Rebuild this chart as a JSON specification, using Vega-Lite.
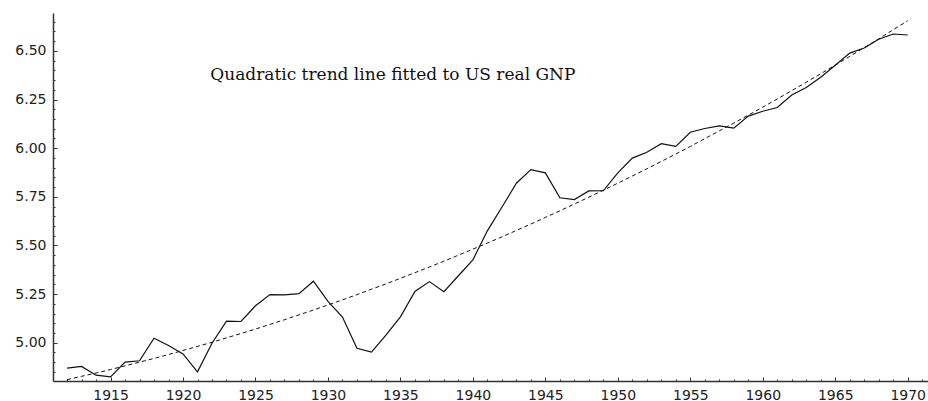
{
  "$schema": "https://vega.github.io/schema/vega-lite/v6.json",
  "width": 875,
  "height": 368,
  "autosize": {"type": "none"},
  "padding": {"left": 53, "top": 13, "right": 0, "bottom": 20},
  "background": "white",
  "config": {"view": {"stroke": null}, "axis": {"grid": false, "title": null}},
  "data": {"values": [
    {"year": 1912, "gnp": 4.869, "trend": 4.810},
    {"year": 1913, "gnp": 4.878, "trend": 4.827},
    {"year": 1914, "gnp": 4.833, "trend": 4.844},
    {"year": 1915, "gnp": 4.824, "trend": 4.862},
    {"year": 1916, "gnp": 4.900, "trend": 4.881},
    {"year": 1917, "gnp": 4.907, "trend": 4.900},
    {"year": 1918, "gnp": 5.023, "trend": 4.919},
    {"year": 1919, "gnp": 4.986, "trend": 4.939},
    {"year": 1920, "gnp": 4.942, "trend": 4.960},
    {"year": 1921, "gnp": 4.850, "trend": 4.981},
    {"year": 1922, "gnp": 4.997, "trend": 5.002},
    {"year": 1923, "gnp": 5.111, "trend": 5.025},
    {"year": 1924, "gnp": 5.109, "trend": 5.047},
    {"year": 1925, "gnp": 5.190, "trend": 5.070},
    {"year": 1926, "gnp": 5.247, "trend": 5.094},
    {"year": 1927, "gnp": 5.246, "trend": 5.118},
    {"year": 1928, "gnp": 5.252, "trend": 5.143},
    {"year": 1929, "gnp": 5.316, "trend": 5.168},
    {"year": 1930, "gnp": 5.212, "trend": 5.194},
    {"year": 1931, "gnp": 5.132, "trend": 5.220},
    {"year": 1932, "gnp": 4.971, "trend": 5.247},
    {"year": 1933, "gnp": 4.952, "trend": 5.275},
    {"year": 1934, "gnp": 5.039, "trend": 5.302},
    {"year": 1935, "gnp": 5.133, "trend": 5.331},
    {"year": 1936, "gnp": 5.263, "trend": 5.360},
    {"year": 1937, "gnp": 5.314, "trend": 5.389},
    {"year": 1938, "gnp": 5.262, "trend": 5.419},
    {"year": 1939, "gnp": 5.344, "trend": 5.450},
    {"year": 1940, "gnp": 5.426, "trend": 5.481},
    {"year": 1941, "gnp": 5.575, "trend": 5.512},
    {"year": 1942, "gnp": 5.696, "trend": 5.544},
    {"year": 1943, "gnp": 5.820, "trend": 5.577},
    {"year": 1944, "gnp": 5.890, "trend": 5.610},
    {"year": 1945, "gnp": 5.873, "trend": 5.644},
    {"year": 1946, "gnp": 5.745, "trend": 5.678},
    {"year": 1947, "gnp": 5.736, "trend": 5.713},
    {"year": 1948, "gnp": 5.780, "trend": 5.748},
    {"year": 1949, "gnp": 5.781, "trend": 5.784},
    {"year": 1950, "gnp": 5.873, "trend": 5.820},
    {"year": 1951, "gnp": 5.949, "trend": 5.857},
    {"year": 1952, "gnp": 5.979, "trend": 5.894},
    {"year": 1953, "gnp": 6.023, "trend": 5.932},
    {"year": 1954, "gnp": 6.009, "trend": 5.970},
    {"year": 1955, "gnp": 6.082, "trend": 6.009},
    {"year": 1956, "gnp": 6.101, "trend": 6.049},
    {"year": 1957, "gnp": 6.115, "trend": 6.089},
    {"year": 1958, "gnp": 6.103, "trend": 6.129},
    {"year": 1959, "gnp": 6.165, "trend": 6.170},
    {"year": 1960, "gnp": 6.190, "trend": 6.211},
    {"year": 1961, "gnp": 6.209, "trend": 6.253},
    {"year": 1962, "gnp": 6.273, "trend": 6.296},
    {"year": 1963, "gnp": 6.312, "trend": 6.339},
    {"year": 1964, "gnp": 6.365, "trend": 6.383},
    {"year": 1965, "gnp": 6.426, "trend": 6.427},
    {"year": 1966, "gnp": 6.489, "trend": 6.472},
    {"year": 1967, "gnp": 6.515, "trend": 6.517},
    {"year": 1968, "gnp": 6.560, "trend": 6.562},
    {"year": 1969, "gnp": 6.587, "trend": 6.609},
    {"year": 1970, "gnp": 6.582, "trend": 6.655}
  ]},
  "layer": [
    {
      "mark": {"type": "line", "color": "#111111", "strokeWidth": 1.2},
      "encoding": {
        "x": {
          "field": "year", "type": "quantitative",
          "scale": {"domain": [1911.03, 1971.4], "nice": false, "zero": false},
          "axis": {
            "orient": "bottom", "values": [1915, 1920, 1925, 1930, 1935, 1940, 1945, 1950, 1955, 1960, 1965, 1970],
            "format": "d", "tickSize": -4, "labelPadding": 11, "title": null,
            "domainColor": "#333333", "domainWidth": 1.5, "tickColor": "#333333", "tickWidth": 1,
            "labelFont": "DejaVu Sans", "labelFontSize": 14, "labelColor": "#222222", "labelDx": -4,
            "labelFlush": false, "labelOverlap": false
          }
        },
        "y": {
          "field": "gnp", "type": "quantitative",
          "scale": {"domain": [4.803, 6.695], "nice": false, "zero": false},
          "axis": {
            "orient": "left", "values": [5.0, 5.25, 5.5, 5.75, 6.0, 6.25, 6.5],
            "format": ".2f", "tickSize": -4, "labelPadding": 11, "title": null,
            "domainColor": "#333333", "domainWidth": 1.5, "tickColor": "#333333", "tickWidth": 1,
            "labelFont": "DejaVu Sans", "labelFontSize": 14, "labelColor": "#222222",
            "labelFlush": false, "labelOverlap": false
          }
        }
      }
    },
    {
      "mark": {"type": "line", "color": "#111111", "strokeWidth": 1, "strokeDash": [4, 3]},
      "encoding": {
        "x": {
          "field": "year", "type": "quantitative",
          "axis": {
            "orient": "bottom", "labels": false, "domain": false, "tickSize": -2, "tickColor": "#333333", "tickWidth": 1, "title": null,
            "values": [1912, 1913, 1914, 1916, 1917, 1918, 1919, 1921, 1922, 1923, 1924, 1926, 1927, 1928, 1929, 1931, 1932, 1933, 1934, 1936, 1937, 1938, 1939, 1941, 1942, 1943, 1944, 1946, 1947, 1948, 1949, 1951, 1952, 1953, 1954, 1956, 1957, 1958, 1959, 1961, 1962, 1963, 1964, 1966, 1967, 1968, 1969, 1971]
          }
        },
        "y": {
          "field": "trend", "type": "quantitative",
          "axis": {
            "orient": "left", "labels": false, "domain": false, "tickSize": -2, "tickColor": "#333333", "tickWidth": 1, "title": null,
            "values": [4.85, 4.9, 4.95, 5.05, 5.1, 5.15, 5.2, 5.3, 5.35, 5.4, 5.45, 5.55, 5.6, 5.65, 5.7, 5.8, 5.85, 5.9, 5.95, 6.05, 6.1, 6.15, 6.2, 6.3, 6.35, 6.4, 6.45, 6.55, 6.6, 6.65]
          }
        }
      }
    },
    {
      "data": {"values": [{"year": 1921.88, "value": 6.351, "label": "Quadratic trend line fitted to US real GNP"}]},
      "mark": {"type": "text", "align": "left", "baseline": "alphabetic", "font": "DejaVu Serif", "fontSize": 17, "color": "#111111"},
      "encoding": {
        "x": {"field": "year", "type": "quantitative", "axis": null},
        "y": {"field": "value", "type": "quantitative", "axis": null},
        "text": {"field": "label"}
      }
    }
  ],
  "resolve": {"axis": {"x": "independent", "y": "independent"}}
}
